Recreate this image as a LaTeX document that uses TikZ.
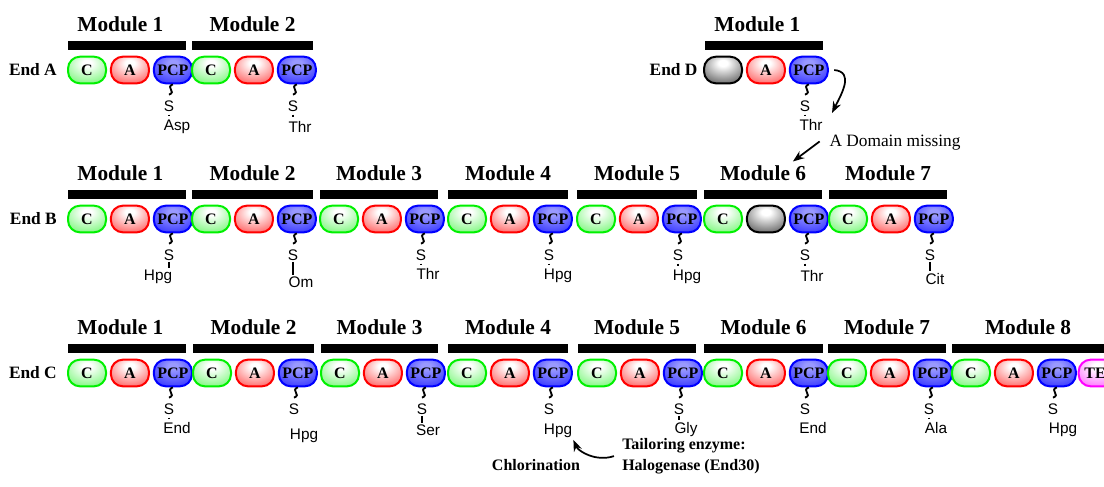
\documentclass[tikz,border=0pt]{standalone}
\usepackage{fontspec}
\setmainfont{Liberation Serif}
\setsansfont{Liberation Sans}
\usetikzlibrary{arrows.meta, positioning, calc}
\definecolor{cgreen}{RGB}{0, 240, 0}
\definecolor{ared}{RGB}{255, 0, 0}
\definecolor{pblue}{RGB}{0, 0, 255}
\definecolor{temag}{RGB}{255, 0, 255}
\colorlet{domin}{white}
\colorlet{domout}{gray}
\pgfdeclareradialshading[domin,domout]{domshade}{\pgfpoint{0bp}{14bp}}{color(0bp)=(domin); color(6bp)=(domin); color(42bp)=(domout); color(90bp)=(domout)}

\begin{document}
\begin{tikzpicture}[
    x=0.75pt, y=-0.75pt,
    dombox/.style={rectangle, rounded corners=9pt, minimum width=28.5pt, minimum height=20pt, inner sep=0pt, line width=1.5pt, shade, shading=domshade, font=\bfseries\fontsize{12}{12}\selectfont},
    shadecols/.code 2 args={\colorlet{domin}{#1}\colorlet{domout}{#2}},
    cdom/.style={dombox, draw=cgreen, shadecols={white}{cgreen!60!white}},
    adom/.style={dombox, draw=ared, shadecols={white}{ared!72!white}},
    pdom/.style={dombox, draw=pblue, shadecols={pblue!40!white}{pblue!85!white}},
    gdom/.style={dombox, draw=black, shadecols={white}{black!72}},
    tdom/.style={dombox, draw=temag, shadecols={white}{temag!65!white}},
    modbar/.style={rectangle, fill=black, inner sep=0pt, minimum height=6.75pt},
    modlabel/.style={inner sep=0pt, font=\bfseries\fontsize{16}{16}\selectfont},
    endlabel/.style={inner sep=0pt, font=\bfseries\fontsize{13}{13}\selectfont},
    sub/.style={inner sep=0pt, anchor=base, font=\sffamily\fontsize{11.5}{12}\selectfont},
    squig/.style={line width=1.4pt},
    dotbond/.style={line width=1.2pt, shorten <=2.4pt, shorten >=2.4pt},
    dashbond/.style={line width=0.9pt, shorten <=1pt, shorten >=1pt},
    nobond/.style={draw=none},
    arrow/.style={-{Stealth[length=3mm]}, line width=1.3pt},
    note/.style={inner sep=0pt, font=\fontsize{13}{15}\selectfont},
    bnote/.style={inner sep=0pt, align=left, font=\bfseries\fontsize{12}{15.75}\selectfont}
]
\useasboundingbox (0,0) rectangle (1104,486);
\clip (0,0) rectangle (1104,486);

% Modules (row/domain y/number/bar x/bar width/middle domain/label/residue/dx/dy/bond)
\foreach \r/\y/\m/\x/\bw/\mid/\lab/\aa/\dx/\dy/\bd in {
    a/70/1/68/118/adom/A/Asp/8/60/dotbond,
    a/70/2/192/121/adom/A/Thr/7/62/dotbond,
    b/219/1/68/118/adom/A/Hpg/-11/61/dashbond,
    b/219/2/192/121/adom/A/Om/8/68/dashbond,
    b/219/3/320/118/adom/A/Thr/7/60/dotbond,
    b/219/4/448/120/adom/A/Hpg/9/60/dotbond,
    b/219/5/577/120/adom/A/Hpg/9/61/dotbond,
    b/219/6/704/118/gdom/{}/Thr/7/62/dotbond,
    b/219/7/829/118/adom/A/Cit/5/65/dashbond,
    c/373/1/68/118/adom/A/End/8/60/dotbond,
    c/373/2/193/121/adom/A/Hpg/10/66/nobond,
    c/373/3/321/117/adom/A/Ser/6/62/dashbond,
    c/373/4/448/120/adom/A/Hpg/9/61/nobond,
    c/373/5/578/118/adom/A/Gly/7/60/dashbond,
    c/373/6/704/119/adom/A/End/8/60/nobond,
    c/373/7/828/118/adom/A/Ala/7/60/dotbond,
    c/373/8/952/152/adom/A/Hpg/10/60/nobond} {
  \node[modbar, minimum width={\bw*0.75pt}] (\r\m-bar) at ({\x+\bw/2},{\y-24.5}) {};
  \node[modlabel, above=6.5pt of \r\m-bar, xshift={ifthenelse(\m==1,-5,0)*1pt}] (\r\m-lab) {Module \m};
  \node[cdom] (\r\m-c) at ({\x+19},\y) {C};
  \node[\mid, right=2.2pt of \r\m-c] (\r\m-a) {\lab};
  \node[pdom, right=2.2pt of \r\m-a] (\r\m-p) {PCP};
  \node[sub] (\r\m-s) at ({\x+101},{\y+41}) {S};
  \node[sub] (\r\m-aa) at ({\x+101+\dx},{\y+\dy}) {\aa};
  \draw[squig] (\r\m-p.south) .. controls +(-8,3) and +(8,-3) .. ([yshift=4pt]\r\m-s.north);
  \draw[\bd] (\r\m-s.south) -- (\r\m-s.south |- \r\m-aa.north);
}

% Thioesterase
\node[tdom, right=0.6pt of c8-p, text width=20pt, align=left] (c8-t) {TE};

% End D
\node[modbar, minimum width=88.5pt] (d1-bar) at (764,45.5) {};
\node[modlabel, above=6.5pt of d1-bar, xshift=-5pt] (d1-lab) {Module 1};
\node[gdom] (d1-g) at (723,70) {};
\node[adom, right=2.2pt of d1-g] (d1-a) {A};
\node[pdom, right=2.2pt of d1-a] (d1-p) {PCP};
\node[sub] (d1-s) at (805,111) {S};
\node[sub] (d1-aa) at (811,130) {Thr};
\draw[squig] (d1-p.south) .. controls +(-8,3) and +(8,-3) .. ([yshift=4pt]d1-s.north);
\draw[dotbond] (d1-s.south) -- (d1-s.south |- d1-aa.north);

% Row labels
\node[endlabel, left=7.5pt of a1-c] (enda) {End A};
\node[endlabel, left=7.5pt of b1-c] (endb) {End B};
\node[endlabel, left=7.5pt of c1-c] (endc) {End C};
\node[endlabel, left=4pt of d1-g] (endd) {End D};

% A domain missing
\coordinate (dtip) at (832,113);
\draw[arrow] ([xshift=4pt]d1-p.east) .. controls +(20,2) and +(10,-20) .. (dtip);
\node[note, anchor=base] (missing) at (895,146) {A Domain missing};
\draw[arrow, shorten <=9pt] (missing.north west) -- ([xshift=-10pt,yshift=3pt]b6-lab.north east);

% Tailoring
\node[bnote, anchor=north west] (tailor) at (622,438) {Tailoring enzyme:\\Halogenase (End30)};
\node[bnote, anchor=base] (chlor) at (536,470) {Chlorination};
\draw[arrow, shorten >=2pt] ([xshift=-6pt]tailor.west) .. controls +(-18,6) and +(6,14) .. (c4-aa.south east);

\end{tikzpicture}
\end{document}
